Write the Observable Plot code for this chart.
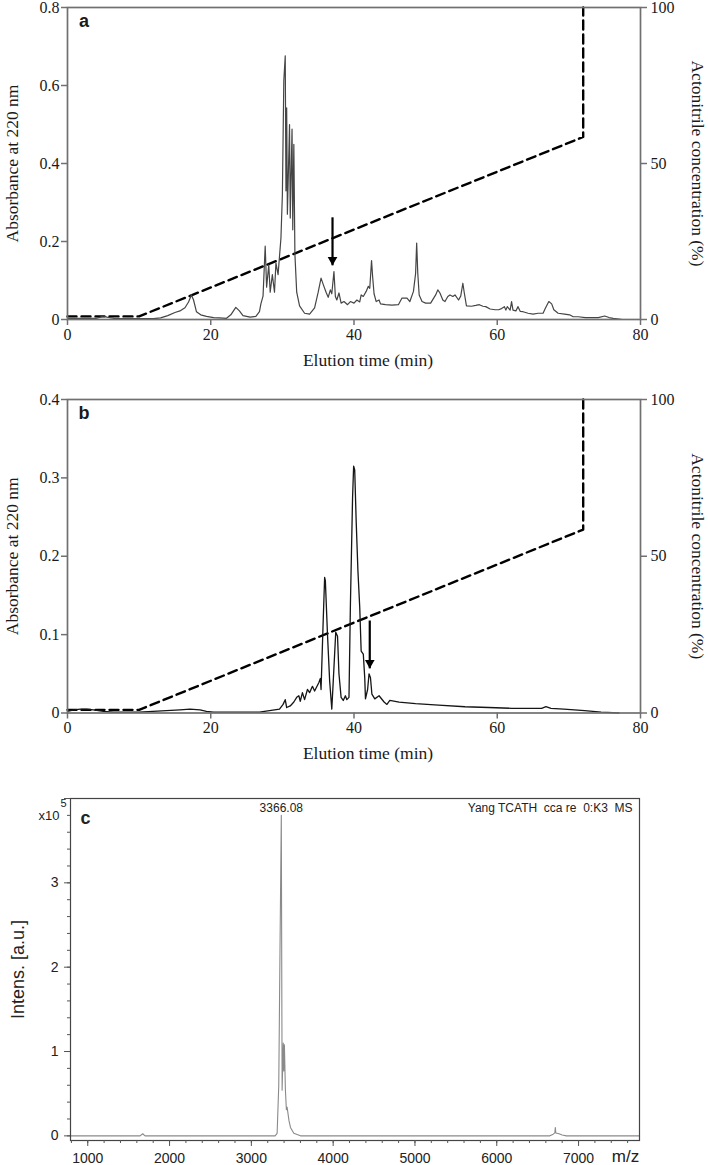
<!DOCTYPE html>
<html><head><meta charset="utf-8">
<script src="https://cdn.jsdelivr.net/npm/d3@7"></script>
<script src="https://cdn.jsdelivr.net/npm/@observablehq/plot@0.6"></script>
<style>
body{margin:0;background:#fff;}
#wrap{position:relative;width:708px;height:1165px;overflow:hidden;background:#fff;}
#wrap svg{position:absolute;left:0;overflow:visible;}
svg text{white-space:pre;}
svg.chrom g[aria-label$="tick label"], svg.chrom g[aria-label$="tick label"] text{font-family:"Liberation Serif","Times New Roman",serif;}
svg.spec g[aria-label$="tick label"], svg.spec g[aria-label$="tick label"] text{font-family:"Liberation Sans",Arial,sans-serif;}
</style></head><body><div id="wrap"></div>
<script>
// ---------- Panel a : RP-HPLC chromatogram ----------
const timeA = [0,2,4,4.6,5.0,5.5,6.5,8,10,12,13,14,15,15.7,16.4,16.9,17.3,17.6,18.0,18.6,19.4,20.4,21.2,22.2,22.8,23.5,24.0,24.5,25.5,26.3,26.8,27.0,27.3,27.6,27.8,28.1,28.3,28.6,28.9,29.1,29.4,29.8,30.0,30.2,30.4,30.5,30.6,30.7,31.0,31.1,31.35,31.45,31.6,31.75,32.0,32.4,33.1,33.8,34.5,35.0,35.4,35.7,36.1,36.4,36.7,36.9,37.2,37.4,37.6,37.9,38.2,38.6,39.1,39.5,40.0,40.4,40.8,41.0,41.3,41.7,42.0,42.2,42.45,42.6,42.8,43.1,43.5,43.7,44.4,45.3,46.2,46.7,47.4,47.8,48.3,48.6,48.75,48.9,49.1,49.5,50.0,50.7,51.4,51.7,52.0,52.4,52.7,53.1,53.4,53.8,54.1,54.6,54.9,55.2,55.4,55.7,56.4,57.0,57.5,58.0,58.4,59.0,59.7,60.2,60.6,61.0,61.2,61.4,61.8,62.0,62.2,62.6,62.9,63.2,63.6,64.3,65.0,65.7,66.4,66.7,67.2,67.6,67.9,68.5,69.4,70.1,70.6,71.3,72.3,73.2,74.1,75.0,75.6,76.2,77.5];
const absA = [0.003,0.003,0.003,0.006,0.009,0.006,0.003,0.002,0.002,0.002,0.004,0.01,0.018,0.022,0.03,0.045,0.063,0.05,0.02,0.012,0.008,0.005,0.004,0.003,0.012,0.031,0.022,0.01,0.006,0.008,0.02,0.04,0.06,0.188,0.083,0.14,0.07,0.115,0.07,0.145,0.115,0.209,0.32,0.612,0.676,0.33,0.543,0.27,0.50,0.26,0.488,0.23,0.449,0.167,0.07,0.035,0.016,0.014,0.03,0.07,0.106,0.09,0.07,0.057,0.076,0.066,0.123,0.059,0.05,0.068,0.042,0.046,0.038,0.046,0.042,0.05,0.045,0.063,0.059,0.072,0.085,0.08,0.151,0.11,0.066,0.046,0.05,0.04,0.038,0.037,0.038,0.055,0.055,0.046,0.072,0.118,0.196,0.12,0.063,0.046,0.042,0.042,0.063,0.076,0.068,0.05,0.046,0.059,0.063,0.059,0.063,0.05,0.06,0.093,0.068,0.035,0.034,0.036,0.038,0.034,0.033,0.027,0.025,0.025,0.028,0.033,0.024,0.033,0.024,0.046,0.024,0.022,0.033,0.021,0.02,0.016,0.014,0.016,0.016,0.028,0.046,0.04,0.025,0.016,0.014,0.012,0.007,0.007,0.005,0.005,0.005,0.009,0.005,0.003,0.0];

// ---------- Panel b : re-chromatography ----------
const timeB = [0,0.9,1.8,2.7,3.6,5.0,6.4,10,13.8,15.7,17.1,18.5,19.4,20.4,26.8,28.2,29.6,30.1,30.4,30.6,31.1,31.6,32.0,32.3,32.5,32.8,33.1,33.5,33.8,34.2,34.5,35.1,35.3,35.4,35.7,35.9,36.0,36.3,36.6,36.9,37.1,37.45,37.7,37.9,38.2,38.5,38.8,39.0,39.3,39.5,39.8,39.95,40.1,40.3,40.55,40.8,41.0,41.3,41.5,41.6,41.9,42.1,42.3,42.5,42.9,43.5,44.2,44.6,45.0,46.3,48.6,51.8,55.5,58.8,62.0,64.8,66.2,66.8,67.5,69.3,72.2,74.5,77.0];
const absB = [0.002,0.004,0.005,0.005,0.004,0.002,0.001,0.001,0.003,0.004,0.005,0.004,0.002,0.001,0.001,0.003,0.005,0.011,0.017,0.007,0.009,0.014,0.02,0.022,0.015,0.026,0.017,0.03,0.026,0.034,0.028,0.039,0.044,0.03,0.118,0.173,0.169,0.1,0.041,0.005,0.04,0.103,0.098,0.05,0.02,0.016,0.022,0.017,0.02,0.139,0.275,0.315,0.31,0.246,0.181,0.135,0.079,0.075,0.045,0.018,0.03,0.05,0.045,0.024,0.018,0.022,0.014,0.011,0.016,0.014,0.012,0.01,0.008,0.007,0.006,0.006,0.006,0.008,0.006,0.005,0.003,0.001,0.0];

// acetonitrile gradient (%)
const gradTime = [0, 10, 72, 72];
const gradConc = [1, 1, 58.5, 100];

// arrows marking the collected peak
const arrowA = {time: [37.0], top: [0.262], tip: [0.139]};
const arrowB = {time: [42.2], top: [0.118], tip: [0.057]};

// ---------- Panel c : MALDI-TOF MS ----------
const mzC  = [789,1000,1640,1672,1700,3290,3315,3335,3350,3366,3376,3390,3396,3404,3416,3428,3437,3460,3478,3519,3600,6650,6690,6710,6716,6722,6760,6800,6850,7745];
const intC = [0,0,0,0.025,0,0,0.03,0.6,2.2,3.80,0.54,1.1,0.77,1.08,0.55,0.31,0.34,0.18,0.1,0.03,0,0,0.02,0.035,0.1,0.035,0.025,0.01,0,0];
const peakLabel = ["3366.08"];
const peakMz = [3366];

// tick labels
const ticksTime = [0, 20, 40, 60, 80];
const ticksAbsA = [0, 0.2, 0.4, 0.6, 0.8];
const ticksAbsB = [0, 0.1, 0.2, 0.3, 0.4];
const ticksConc = [0, 50, 100];
const ticksMz = [1000, 2000, 3000, 4000, 5000, 6000, 7000];
const minorMz = d3.range(800, 7745, 200);
const ticksInt = [0, 1, 2, 3, 4];
const labelsInt = [0, 1, 2, 3];
const minorInt = d3.range(0, 4.01, 0.2);

const wrap = document.getElementById("wrap");
const serif = "Liberation Serif, Times New Roman, serif";
const sans = "Liberation Sans, Arial, sans-serif";
const axisGrey = "#707070";

function chromPanel({times, abs, yMax, yTicks, top, height, mTop, mBottom, stroke, strokeW, letter, arrow}) {
  const k = yMax / 100;
  const trace = times.map((t, i) => ({t, a: abs[i]}));
  const grad = gradTime.map((t, i) => ({t, c: gradConc[i]}));
  const arr = arrow.time.map((t, i) => ({t, top: arrow.top[i], tip: arrow.tip[i]}));
  const ax = {label: null, stroke: axisGrey, strokeWidth: 1.5, fontFamily: serif, fontSize: 16, fill: "#1a1a1a"};
  const svg = Plot.plot({
    className: "chrom",
    width: 708, height, marginTop: mTop, marginBottom: mBottom, marginLeft: 67, marginRight: 68,
    style: {fontFamily: serif, fontSize: "16px", color: "#1a1a1a", background: "transparent"},
    x: {domain: [0, 80], axis: null},
    y: {domain: [0, yMax], axis: null},
    marks: [
      Plot.line(grad, {x: "t", y: d => d.c * k, stroke: "#000", strokeWidth: 2.4, strokeDasharray: "9,5"}),
      Plot.line(trace, {x: "t", y: "a", stroke, strokeWidth: strokeW}),
      Plot.link(arr, {x1: "t", x2: "t", y1: "top", y2: "tip", stroke: "#000", strokeWidth: 2.2}),
      Plot.dot(arr, {x: "t", y: "tip", symbol: "triangle", r: 3.6, rotate: 180, fill: "#000", stroke: null, dy: -5.5}),
      Plot.frame({stroke: axisGrey, strokeWidth: 1.7}),
      Plot.axisX({...ax, ticks: ticksTime, tickSize: 6, tickPadding: 3, tickFormat: d => String(d)}),
      Plot.axisY({...ax, anchor: "left", ticks: yTicks, tickSize: 6, tickPadding: 2, tickFormat: d => d === 0 ? "0" : d3.format(".1f")(d)}),
      Plot.axisY({...ax, anchor: "right", ticks: ticksConc.map(c => c * k), tickSize: 6, tickPadding: 4, tickFormat: d => String(Math.round(d / k))}),
      Plot.text(["Absorbance at 220 nm"], {frameAnchor: "left", dx: -55, rotate: -90, textAnchor: "middle", fontSize: 17.5, fontFamily: serif}),
      Plot.text(["Actonitrile concentration (%)"], {frameAnchor: "right", dx: 57, rotate: 90, textAnchor: "middle", fontSize: 17.5, fontFamily: serif}),
      Plot.text(["Elution time (min)"], {frameAnchor: "bottom", dx: 14, dy: 46, fontSize: 17.5, fontFamily: serif}),
      Plot.text([letter], {frameAnchor: "top-left", dx: 16.5, dy: 14, textAnchor: "middle", lineAnchor: "middle", fontFamily: sans, fontWeight: "bold", fontSize: 18})
    ]
  });
  svg.style.top = top + "px";
  wrap.appendChild(svg);
}

chromPanel({times: timeA, abs: absA, yMax: 0.8, yTicks: ticksAbsA, top: 0, height: 385, mTop: 7, mBottom: 66,
  stroke: "#454545", strokeW: 1.2, letter: "a", arrow: arrowA});
chromPanel({times: timeB, abs: absB, yMax: 0.4, yTicks: ticksAbsB, top: 385, height: 390, mTop: 14, mBottom: 62.5,
  stroke: "#151515", strokeW: 1.3, letter: "b", arrow: arrowB});

// panel c
{
  const spec = mzC.map((m, i) => ({mz: m, i: intC[i]}));
  const ax = {label: null, stroke: "#555", fontFamily: sans, fontSize: 14, fill: "#222"};
  const svg = Plot.plot({
    className: "spec",
    width: 708, height: 390, marginTop: 23, marginBottom: 25, marginLeft: 70, marginRight: 69,
    style: {fontFamily: sans, fontSize: "14px", color: "#222", background: "transparent"},
    x: {domain: [789, 7745], axis: null},
    y: {domain: [-0.055, 4.0], axis: null},
    marks: [
      Plot.line(spec, {x: "mz", y: "i", stroke: "#8a8a8a", strokeWidth: 1.1}),
      Plot.frame({stroke: "#444", strokeWidth: 1.2}),
      Plot.axisX({...ax, ticks: minorMz, tickSize: 3, text: null}),
      Plot.axisX({...ax, ticks: ticksMz, tickSize: 6, tickPadding: 7, tickFormat: d => String(d)}),
      Plot.axisY({...ax, ticks: minorInt, tickSize: 3, text: null}),
      Plot.axisY({...ax, ticks: ticksInt, tickSize: 6, tickPadding: 6, tickFormat: d => labelsInt.includes(d) ? String(d) : ""}),
      Plot.text(peakLabel, {x: peakMz, frameAnchor: "top", dy: 10, lineAnchor: "middle", fontSize: 12, fontFamily: sans}),
      Plot.text(["Yang TCATH  cca re  0:K3  MS"], {frameAnchor: "top-right", dx: -7, dy: 10, textAnchor: "end", lineAnchor: "middle", fontSize: 12, fontFamily: sans}),
      Plot.text(["c"], {frameAnchor: "top-left", dx: 15, dy: 20, textAnchor: "middle", lineAnchor: "middle", fontWeight: "bold", fontSize: 18, fontFamily: sans}),
      Plot.text(["x10"], {frameAnchor: "top-left", dx: -11, dy: 17, textAnchor: "end", lineAnchor: "middle", fontSize: 13, fontFamily: sans}),
      Plot.text(["5"], {frameAnchor: "top-left", dx: -10, dy: 5, textAnchor: "start", lineAnchor: "middle", fontSize: 11, fontFamily: sans}),
      Plot.text(["Intens. [a.u.]"], {frameAnchor: "left", dx: -52, rotate: -90, textAnchor: "middle", fontSize: 18, fontFamily: sans}),
      Plot.text(["m/z"], {frameAnchor: "bottom-right", dx: -14, dy: 16, textAnchor: "middle", lineAnchor: "middle", fontSize: 17, fontFamily: sans})
    ]
  });
  svg.style.top = "775px";
  wrap.appendChild(svg);
}
</script></body></html>
